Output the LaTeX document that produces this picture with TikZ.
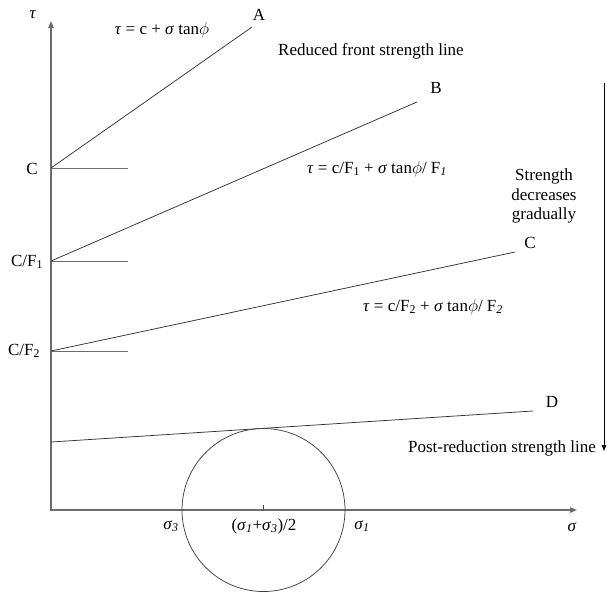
\documentclass[tikz,border=0pt]{standalone}
\usepackage{fontspec}
\setmainfont{Liberation Serif}
\usetikzlibrary{arrows.meta}
\newcommand{\mytau}{\textit{τ}}
\newcommand{\mysig}{\textit{σ}}
\newcommand{\myphi}{$\phi$}
\begin{document}
\begin{tikzpicture}[x=1pt,y=-1pt,
  font=\fontsize{17}{19.5}\selectfont,
  axisline/.style={draw=gray!85!black, line width=1.3pt, {Triangle[length=7pt,width=5.5pt]}-{Triangle[length=7pt,width=5.5pt]}},
  sline/.style={draw=black!80, line width=0.75pt},
  shortline/.style={draw=gray!85!black, line width=1pt},
  mohrc/.style={circle, draw=black!75, line width=0.75pt, minimum size=163pt, inner sep=0pt},
  lbl/.style={inner sep=0pt, anchor=center},
  trend/.style={draw=black, line width=0.75pt, -{Triangle[length=6pt,width=4.5pt]}}]
\useasboundingbox (0,0) rectangle (607,592);
% axes
\coordinate (O) at (51,510);
\coordinate (ytop) at (51,21);
\coordinate (xend) at (577,510);
\draw[axisline] (ytop) -- (O) -- (xend);
% intercepts
\coordinate (c0) at (51,168);
\coordinate (c1) at (51,261);
\coordinate (c2) at (51,351);
\coordinate (d0) at (51,442);
\coordinate (c0t) at (128,168);
\coordinate (c1t) at (128,261);
\coordinate (c2t) at (128,351);
\draw[shortline] (c0) -- (c0t);
\draw[shortline] (c1) -- (c1t);
\draw[shortline] (c2) -- (c2t);
% strength lines
\coordinate (aE) at (252,27);
\coordinate (bE) at (417,102);
\coordinate (cE) at (515,252);
\coordinate (dE) at (533,411);
\draw[sline] (c0) -- (aE);
\draw[sline] (c1) -- (bE);
\draw[sline] (c2) -- (cE);
\draw[sline] (d0) -- (dE);
% Mohr circle
\node[mohrc] (mohr) at (263.5,510) {};
\coordinate (tk) at (263.5,505);
\draw[line width=0.75pt, black!75] (mohr.center) -- (tk);
% trend arrow
\coordinate (tr0) at (604,83);
\coordinate (tr1) at (604,451);
\draw[trend] (tr0) -- (tr1);
% labels
\node[lbl] (ltau) at (33,15) {\mytau};
\node[lbl] (lsig) at (572,527) {\mysig};
\node[lbl] (lA) at (259,15) {A};
\node[lbl] (lB) at (436,88) {B};
\node[lbl] (lC) at (530,243) {C};
\node[lbl] (lD) at (552,402) {D};
\node[lbl] (eqA) at (162,30) {\mytau{} = c + \mysig{} tan\myphi};
\node[lbl] (eqB) at (377,169) {\mytau{} = c/F\textsubscript{1} + \mysig{} tan\myphi/ F\textsubscript{\textit{1}}};
\node[lbl] (eqC) at (433,307) {\mytau{} = c/F\textsubscript{2} + \mysig{} tan\myphi/ F\textsubscript{\textit{2}}};
\node[lbl] (red) at (371,51) {Reduced front strength line};
\node[lbl, align=center] (dec) at (544,196) {Strength\\decreases\\gradually};
\node[lbl] (post) at (502,448) {Post-reduction strength line};
\node[lbl] (yC) at (32,169) {C};
\node[lbl] (yC1) at (27,262) {C/F\textsubscript{1}};
\node[lbl] (yC2) at (24,351) {C/F\textsubscript{2}};
\node[lbl] (s3) at (171,526) {\mysig\textsubscript{\textit{3}}};
\node[lbl] (smid) at (264,526) {(\mysig\textsubscript{\textit{1}}+\mysig\textsubscript{\textit{3}})/2};
\node[lbl] (s1) at (362,526) {\mysig\textsubscript{\textit{1}}};
\end{tikzpicture}
\end{document}
